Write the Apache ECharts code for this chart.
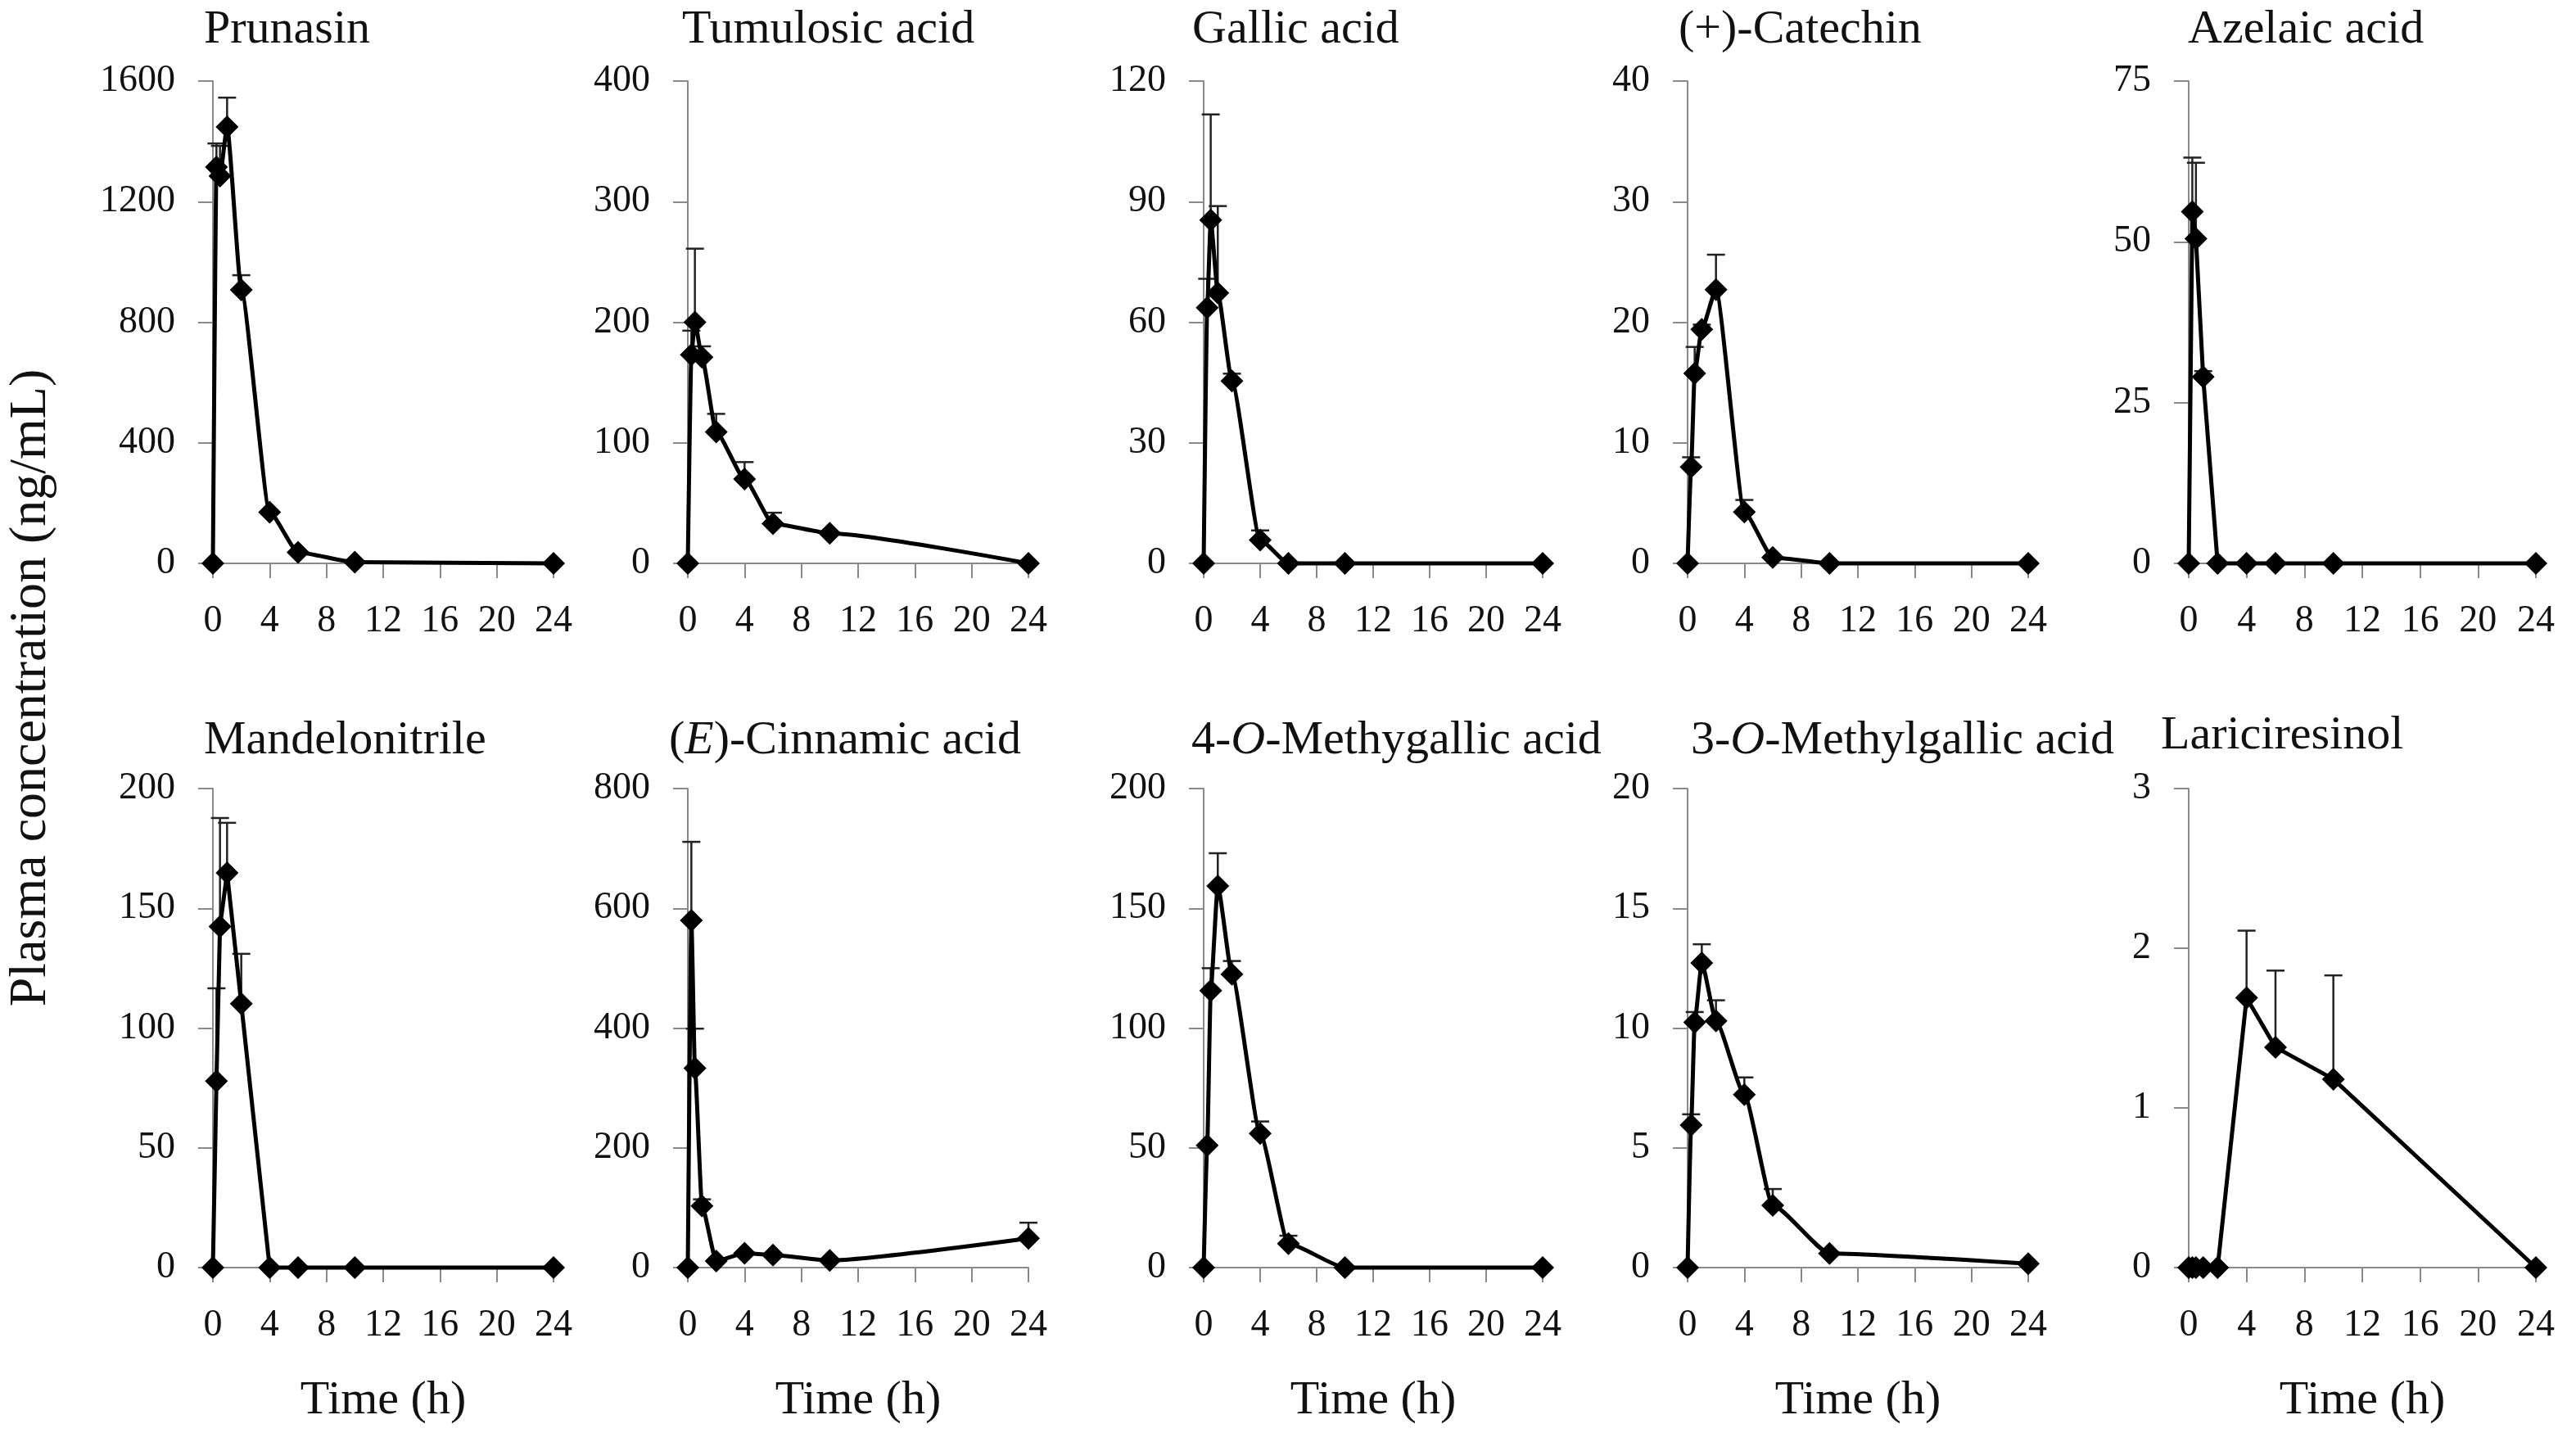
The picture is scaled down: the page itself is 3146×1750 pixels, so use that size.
<!DOCTYPE html>
<html><head><meta charset="utf-8">
<script src="https://cdn.jsdelivr.net/npm/echarts@6/dist/echarts.min.js"></script>
<style>html,body{margin:0;padding:0;background:#fff}#c{width:3146px;height:1750px}</style>
</head><body><div id="c"></div>
<script>
// ---- data ----
const times = [0, 0.25, 0.5, 1, 2, 4, 6, 10, 24];
const titles = ['Prunasin', 'Tumulosic acid', 'Gallic acid', '(+)-Catechin', 'Azelaic acid',
  'Mandelonitrile', '{n|(}{i|E}{n|)-Cinnamic acid}', '{n|4-}{i|O}{n|-Methygallic acid}', '{n|3-}{i|O}{n|-Methylgallic acid}', 'Lariciresinol'];
const prunasin      = [0, 1315, 1285, 1448, 907, 170, 37, 4, 0];
const prunasinErr   = [0, 78, 100, 97, 49, 0, 0, 0, 0];
const tumulosic     = [0, 173, 200, 171, 109, 70, 33, 25, 0];
const tumulosicErr  = [0, 20, 61, 9, 15, 14, 9, 0, 0];
const gallic        = [0, 63.6, 85.4, 67.3, 45.4, 5.8, 0, 0, 0];
const gallicErr     = [0, 7.2, 26.3, 21.6, 1.8, 2.4, 0, 0, 0];
const catechin      = [0, 8.0, 15.75, 19.4, 22.7, 4.26, 0.5, 0, 0];
const catechinErr   = [0, 0.8, 2.2, 0.4, 2.9, 1.0, 0, 0, 0];
const azelaic       = [0, 54.7, 50.5, 29.0, 0, 0, 0, 0, 0];
const azelaicErr    = [0, 8.4, 11.8, 0.9, 0, 0, 0, 0, 0];
const mandelo       = [0, 77.9, 142.4, 164.8, 110.2, 0, 0, 0, 0];
const mandeloErr    = [0, 38.7, 45.3, 20.9, 20.8, 0, 0, 0, 0];
const cinnamic      = [0, 580, 333, 103, 11, 24, 21, 12, 49];
const cinnamicErr   = [0, 131, 66, 11, 0, 0, 0, 0, 26];
const methyl4       = [0, 51, 115.6, 159.3, 122.5, 56, 10, 0, 0];
const methyl4Err    = [0, 0, 9.4, 13.7, 5.5, 5, 3.3, 0, 0];
const methyl3       = [0, 5.95, 10.24, 12.72, 10.3, 7.22, 2.6, 0.59, 0.16];
const methyl3Err    = [0, 0.45, 0.43, 0.78, 0.86, 0.72, 0.68, 0, 0];
const laricires     = [0, 0, 0, 0, 0, 1.69, 1.38, 1.18, 0];
const laricresErr   = [0, 0, 0, 0, 0, 0.42, 0.48, 0.65, 0];
const means = [prunasin, tumulosic, gallic, catechin, azelaic, mandelo, cinnamic, methyl4, methyl3, laricires];
const errs  = [prunasinErr, tumulosicErr, gallicErr, catechinErr, azelaicErr, mandeloErr, cinnamicErr, methyl4Err, methyl3Err, laricresErr];
const yMax  = [1600, 400, 120, 40, 75, 200, 800, 200, 20, 3];
const yStep = [400, 100, 30, 10, 25, 50, 200, 50, 5, 1];
const xMax = 24, xStep = 4;
const yName = 'Plasma concentration (ng/mL)';
const xName = 'Time (h)';

// ---- layout ----
const colL = [260, 840, 1470, 2061, 2673];
const colR = [676, 1256, 1884, 2477, 3097];
const rowT = [99, 963];
const rowH = [589, 585];
const titleLeft = [249, 833, 1456, 2050, 2672, 249, 817, 1455, 2065, 2639];
const titleTop = [8, 8, 8, 8, 8, 876, 876, 876, 876, 870];
const smoothOn = [true, true, true, true, false, false, true, true, true, false];
const FONT = '"Liberation Serif", "Times New Roman", serif';
const AX = '#8a8a8a';

const grid = [], xAxis = [], yAxis = [], series = [], title = [];
for (let i = 0; i < 10; i++) {
  const r = i < 5 ? 0 : 1, c = i % 5;
  grid.push({left: colL[c], top: rowT[r], width: colR[c] - colL[c], height: rowH[r]});
  xAxis.push({
    type: 'value', gridIndex: i, min: 0, max: xMax, interval: xStep,
    axisLine: {show: true, lineStyle: {color: AX, width: 2}},
    axisTick: {show: true, inside: false, length: 18, lineStyle: {color: AX, width: 2}},
    axisLabel: {margin: 48, fontSize: 46, fontFamily: FONT, color: '#111', formatter: v => String(v)},
    splitLine: {show: false},
    name: r === 1 ? xName : '', nameLocation: 'middle', nameGap: 134,
    nameTextStyle: {fontSize: 58, fontFamily: FONT, color: '#111'}
  });
  yAxis.push({
    type: 'value', gridIndex: i, min: 0, max: yMax[i], interval: yStep[i],
    axisLine: {show: true, lineStyle: {color: AX, width: 2}},
    axisTick: {show: true, inside: false, length: 18, lineStyle: {color: AX, width: 2}},
    axisLabel: {margin: 46, fontSize: 46, fontFamily: FONT, color: '#111', formatter: v => String(v)},
    splitLine: {show: false}
  });
  const rich = {
    n: {fontSize: 58, fontFamily: FONT, color: '#111'},
    i: {fontSize: 58, fontFamily: FONT, color: '#111', fontStyle: 'italic'}
  };
  title.push({text: titles[i], left: titleLeft[i], top: titleTop[i], padding: 0,
    textStyle: {fontSize: 58, fontWeight: 'normal', fontFamily: FONT, color: '#111', rich}});
  const m = means[i], e = errs[i];
  series.push({
    type: 'custom', xAxisIndex: i, yAxisIndex: i, z: 1, silent: true,
    data: times.map((t, k) => [t, m[k], m[k] + e[k]]),
    encode: {x: 0, y: [1, 2]},
    renderItem: function (params, api) {
      const v1 = api.value(1), v2 = api.value(2);
      if (!(v2 > v1)) return;
      const p0 = api.coord([api.value(0), v1]);
      const p1 = api.coord([api.value(0), v2]);
      return {type: 'group', children: [
        {type: 'line', shape: {x1: p0[0], y1: p0[1], x2: p1[0], y2: p1[1]}, style: {stroke: '#222', lineWidth: 2.5}},
        {type: 'line', shape: {x1: p1[0] - 11, y1: p1[1], x2: p1[0] + 11, y2: p1[1]}, style: {stroke: '#222', lineWidth: 2.5}}
      ]};
    }
  });
  series.push({
    type: 'line', xAxisIndex: i, yAxisIndex: i, z: 3,
    data: times.map((t, k) => [t, m[k]]),
    smooth: smoothOn[i] ? 0.18 : false, smoothMonotone: 'x',
    symbol: 'diamond', symbolSize: 28, showAllSymbol: true,
    lineStyle: {color: '#000', width: 5},
    itemStyle: {color: '#000'},
    clip: false
  });
}

const chart = echarts.init(document.getElementById('c'));
chart.setOption({
  animation: false,
  backgroundColor: '#fff',
  title, grid, xAxis, yAxis, series,
  graphic: [{
    type: 'text', x: 38, y: 840, rotation: Math.PI / 2,
    style: {text: yName, font: '64px ' + FONT, fill: '#111', textAlign: 'center', textVerticalAlign: 'middle'}
  }]
});
</script></body></html>
